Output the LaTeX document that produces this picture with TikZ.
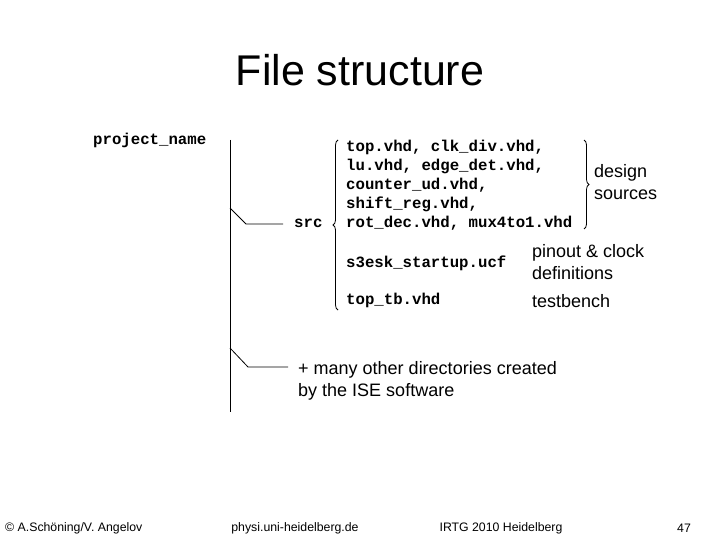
\documentclass[tikz,border=0pt]{standalone}
\usepackage{fontspec}
\setmainfont{Liberation Sans}
\newfontfamily\codefont{Liberation Mono}
\usetikzlibrary{decorations.pathreplacing}
\begin{document}
\begin{tikzpicture}[x=1pt,y=-1pt,
  code/.style={font=\codefont\bfseries\fontsize{15.7}{19}\selectfont,anchor=west,inner sep=0pt,align=left},
  lab/.style={font=\fontsize{18}{21.5}\selectfont,anchor=west,inner sep=0pt,align=left},
  foot/.style={font=\fontsize{12.3}{14}\selectfont,inner sep=0pt},
  tree/.style={line width=0.8pt}]
\useasboundingbox (0,0) rectangle (720,540);
\node[font=\fontsize{43}{48}\selectfont,inner sep=0pt] (title) at (360,70) {File structure};
\node[code] (proj) at (93,140) {project\_name};
\coordinate (vt) at (230,140);
\coordinate (vb) at (230,412);
\draw[tree] (vt) -- (vb);
\coordinate (b1) at (230,208);
\coordinate (b2) at (230,348);
\node[code] (src) at (294,223) {src};
\draw[tree] (b1) -- (246,224) -- (283,224);
\node[code] (srcfiles) at (346,185) {top.vhd, clk\_div.vhd,\\lu.vhd, edge\_det.vhd,\\counter\_ud.vhd,\\shift\_reg.vhd,\\rot\_dec.vhd, mux4to1.vhd};
\node[code] (ucf) at (346,263) {s3esk\_startup.ucf};
\node[code] (tb) at (346,300) {top\_tb.vhd};
\draw[tree,decorate,decoration={brace,amplitude=5pt}] (338,310) -- (338,140);
\draw[tree,decorate,decoration={brace,amplitude=5pt}] (584,140) -- (584,229);
\node[lab] (design) at (594,182) {design\\sources};
\node[lab] (pin) at (532,262) {pinout \& clock\\definitions};
\node[lab] (tbl) at (532,301) {testbench};
\node[lab] (many) at (298,381) {+ many other directories created\\by the ISE software};
\draw[tree] (b2) -- (248,367) -- (288,367);
\node[foot,anchor=west] (f1) at (5,528) {© A.Schöning/V. Angelov};
\node[foot] (f2) at (295,528) {physi.uni-heidelberg.de};
\node[foot] (f3) at (501,528) {IRTG 2010 Heidelberg};
\node[foot] (f4) at (684,528) {47};
\end{tikzpicture}
\end{document}
